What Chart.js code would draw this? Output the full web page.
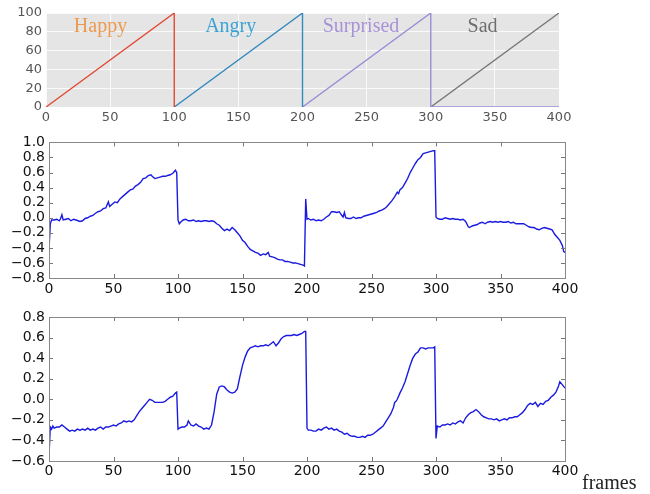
<!DOCTYPE html>
<html>
<head>
<meta charset="utf-8">
<script src="https://cdn.jsdelivr.net/npm/chart.js@4/dist/chart.umd.min.js"></script>
<style>
  body { margin: 0; background: #fff; width: 650px; height: 494px; position: relative; overflow: hidden; }
  canvas { position: absolute; left: 0; }
  #frames { position: absolute; left: 582px; top: 472px; font: 20px 'Liberation Serif', serif; line-height: 20px; color: #222; }
</style>
</head>
<body>
<canvas id="topChart" width="650" height="128" style="top:0"></canvas>
<canvas id="midChart" width="650" height="170" style="top:130px"></canvas>
<canvas id="lowChart" width="650" height="194" style="top:300px"></canvas>
<div id="frames">frames</div>
<script>
// Emozioni (grafico in alto)
const emotions = ['Happy', 'Angry', 'Surprised', 'Sad'];
const emotionColors = ['#e24a33', '#348abd', '#988ed5', '#777777'];
const labelColors = ['#ec9a50', '#3aa3d4', '#a892d8', '#6e6e6e'];
const labelX = [42.5, 144, 245.6, 340.4];
const rampFrames = [[0, 100, 100], [100, 200, 200], [200, 300, 300, 400], [300, 400]];
const rampValues = [[0, 100, 0], [0, 100, 0], [0, 100, 0, 0], [0, 100]];

// Serie centrale
const midFrames = [0,1,2,4,6,8,9,10,11,13,15,17,19,21,24,26,28,30,32,34,36,38,40,42,44,46,47,49,51,53,55,57,59,61,63,65,67,69,71,73,75,77,79,80,82,84,86,88,90,92,94,96,97,98,99,
  100,101,102,104,106,108,110,112,114,116,118,120,122,124,126,128,130,132,134,136,138,140,142,144,146,148,150,152,154,156,158,160,162,164,166,168,170,171,173,175,177,179,181,183,185,187,189,191,193,195,197,198,199,
  200,201,203,205,207,209,211,213,215,217,219,221,223,225,227,228,229,230,232,234,236,238,240,242,244,246,248,250,252,254,256,258,260,262,264,266,268,270,271,272,274,276,278,280,282,284,286,288,290,292,294,296,298,299,
  300,301,303,305,307,309,311,313,315,317,319,321,323,325,326,328,330,332,334,336,338,340,342,344,346,348,350,352,354,356,358,360,362,364,366,368,370,372,374,376,378,380,382,384,386,388,390,392,394,396,398,399,400];
const midValues = [-0.42,-0.08,-0.03,-0.03,-0.02,-0.04,-0.01,0.04,-0.03,-0.02,-0.01,-0.04,-0.02,-0.03,-0.05,-0.04,-0.01,0.00,0.02,0.03,0.06,0.08,0.09,0.12,0.13,0.21,0.15,0.18,0.21,0.20,0.25,0.28,0.31,0.34,0.37,0.38,0.42,0.44,0.47,0.52,0.53,0.56,0.57,0.55,0.52,0.53,0.54,0.55,0.55,0.56,0.57,0.59,0.61,0.63,0.60,
  -0.03,-0.08,-0.06,-0.03,-0.02,-0.04,-0.04,-0.03,-0.05,-0.04,-0.05,-0.04,-0.04,-0.05,-0.04,-0.05,-0.08,-0.10,-0.14,-0.17,-0.15,-0.17,-0.13,-0.16,-0.20,-0.24,-0.30,-0.33,-0.38,-0.42,-0.44,-0.46,-0.47,-0.50,-0.48,-0.49,-0.46,-0.51,-0.52,-0.53,-0.55,-0.56,-0.56,-0.58,-0.58,-0.59,-0.60,-0.60,-0.61,-0.62,-0.63,-0.64,0.25,
  -0.02,-0.01,-0.03,-0.02,-0.04,-0.03,-0.04,-0.02,0.01,0.03,0.08,0.08,0.07,0.08,0.03,0.01,0.07,0.00,-0.01,-0.01,0.01,-0.01,0.00,0.00,0.02,0.03,0.04,0.05,0.06,0.07,0.09,0.10,0.12,0.15,0.19,0.23,0.28,0.34,0.32,0.37,0.40,0.46,0.52,0.60,0.66,0.72,0.77,0.80,0.85,0.86,0.87,0.88,0.89,0.89,
  0.01,-0.01,-0.02,-0.02,0.00,-0.01,-0.02,-0.01,-0.02,-0.02,-0.03,-0.02,-0.05,-0.12,-0.13,-0.11,-0.10,-0.09,-0.07,-0.06,-0.08,-0.06,-0.05,-0.06,-0.05,-0.06,-0.05,-0.06,-0.06,-0.05,-0.07,-0.06,-0.08,-0.08,-0.08,-0.08,-0.10,-0.12,-0.13,-0.13,-0.15,-0.16,-0.14,-0.13,-0.14,-0.15,-0.16,-0.22,-0.26,-0.30,-0.37,-0.45,-0.46];

// Serie in basso
const lowFrames = [0,1,2,3,4,6,8,10,12,14,16,18,20,22,24,26,28,30,32,34,36,38,40,42,44,46,48,50,52,54,56,58,60,62,64,66,68,70,72,74,76,78,80,82,84,86,88,90,92,94,96,98,99,
  100,101,103,105,107,108,110,112,114,116,118,120,122,124,126,128,130,132,134,136,138,140,142,144,146,148,150,152,154,156,158,160,162,164,166,168,170,172,174,176,178,180,182,184,186,188,190,192,194,196,198,199,
  200,201,203,205,207,209,211,213,215,217,219,221,223,225,227,229,231,233,235,237,239,241,243,245,247,249,251,253,255,257,259,261,263,265,267,268,269,270,272,274,276,278,280,282,284,286,288,290,292,294,296,298,299,
  300,301,303,305,307,309,311,313,315,317,319,321,323,325,327,329,331,333,335,337,339,341,343,345,347,349,351,353,355,357,359,361,363,365,367,369,371,373,375,377,379,381,383,385,387,389,391,393,395,396,398,400];
const lowValues = [-0.55,-0.27,-0.29,-0.26,-0.28,-0.27,-0.27,-0.25,-0.27,-0.29,-0.31,-0.30,-0.31,-0.29,-0.30,-0.29,-0.30,-0.28,-0.30,-0.29,-0.30,-0.28,-0.27,-0.29,-0.27,-0.27,-0.26,-0.25,-0.26,-0.24,-0.23,-0.21,-0.22,-0.21,-0.22,-0.20,-0.16,-0.12,-0.09,-0.06,-0.03,0.00,-0.01,-0.03,-0.03,-0.03,-0.03,-0.02,0.00,0.02,0.03,0.06,0.07,
  -0.29,-0.28,-0.27,-0.27,-0.25,-0.21,-0.25,-0.26,-0.24,-0.26,-0.27,-0.29,-0.28,-0.29,-0.25,-0.12,0.05,0.12,0.13,0.12,0.09,0.07,0.06,0.07,0.10,0.22,0.33,0.41,0.47,0.50,0.51,0.52,0.51,0.52,0.52,0.53,0.52,0.54,0.56,0.52,0.55,0.59,0.61,0.62,0.62,0.62,0.63,0.62,0.63,0.64,0.66,0.66,
  -0.28,-0.30,-0.30,-0.31,-0.31,-0.29,-0.30,-0.28,-0.27,-0.29,-0.28,-0.30,-0.29,-0.31,-0.32,-0.34,-0.33,-0.35,-0.36,-0.36,-0.37,-0.37,-0.36,-0.37,-0.35,-0.35,-0.34,-0.32,-0.30,-0.28,-0.26,-0.22,-0.18,-0.14,-0.08,-0.03,-0.02,0.00,0.06,0.11,0.17,0.25,0.33,0.40,0.44,0.46,0.50,0.50,0.49,0.50,0.50,0.50,0.51,
  -0.38,-0.26,-0.27,-0.25,-0.25,-0.24,-0.25,-0.23,-0.24,-0.22,-0.21,-0.23,-0.18,-0.15,-0.13,-0.12,-0.10,-0.12,-0.15,-0.17,-0.18,-0.19,-0.19,-0.20,-0.19,-0.21,-0.20,-0.19,-0.20,-0.18,-0.18,-0.17,-0.17,-0.15,-0.13,-0.10,-0.06,-0.04,-0.05,-0.03,-0.07,-0.04,-0.05,-0.02,-0.01,0.02,0.04,0.07,0.13,0.17,0.14,0.11];

// Assi
const frameTicks = [0, 50, 100, 150, 200, 250, 300, 350, 400];
const topTicks = [0, 20, 40, 60, 80, 100];
const midTicks = [-0.8, -0.6, -0.4, -0.2, 0.0, 0.2, 0.4, 0.6, 0.8, 1.0];
const lowTicks = [-0.6, -0.4, -0.2, 0.0, 0.2, 0.4, 0.6, 0.8];

const lineColor = '#1a1ae0';

function toPoints(xs, ys) {
    return xs.map((x, i) => ({ x: x, y: ys[i] }));
}

function fmt(v) {
    const s = Math.abs(v) < 1e-9 ? '0.0' : v.toFixed(1);
    return s.replace('-', '\u2212');
}

// Sfondo grigio e etichette (stile ggplot)
const ggplotPlugin = {
    id: 'ggplot',
    beforeDraw(chart) {
        const a = chart.chartArea;
        const ctx = chart.ctx;
        ctx.save();
        ctx.fillStyle = '#e5e5e5';
        ctx.fillRect(a.left, a.top, a.right - a.left, a.bottom - a.top);
        ctx.restore();
    },
    afterDatasetsDraw(chart) {
        const ctx = chart.ctx;
        const xs = chart.scales.x, ys = chart.scales.y;
        ctx.save();
        ctx.font = '20px "Liberation Serif", serif';
        ctx.textAlign = 'center';
        ctx.textBaseline = 'alphabetic';
        emotions.forEach((name, i) => {
            ctx.fillStyle = labelColors[i];
            ctx.fillText(name, xs.getPixelForValue(labelX[i]), ys.getPixelForValue(80));
        });
        ctx.restore();
    }
};

// Cornice e tacche interne (stile matplotlib)
const framePlugin = {
    id: 'frame',
    afterDatasetsDraw(chart) {
        const a = chart.chartArea;
        const ctx = chart.ctx;
        const xs = chart.scales.x, ys = chart.scales.y;
        ctx.save();
        ctx.strokeStyle = '#777';
        ctx.lineWidth = 1;
        ctx.beginPath();
        xs.ticks.forEach(t => {
            const px = Math.round(xs.getPixelForValue(t.value)) + 0.5;
            ctx.moveTo(px, a.bottom); ctx.lineTo(px, a.bottom - 4);
            ctx.moveTo(px, a.top); ctx.lineTo(px, a.top + 4);
        });
        ys.ticks.forEach(t => {
            const py = Math.round(ys.getPixelForValue(t.value)) + 0.5;
            ctx.moveTo(a.left, py); ctx.lineTo(a.left + 4, py);
            ctx.moveTo(a.right, py); ctx.lineTo(a.right - 4, py);
        });
        ctx.stroke();
        ctx.strokeStyle = '#888';
        ctx.strokeRect(Math.round(a.left) + 0.5, Math.round(a.top) + 0.5, Math.round(a.right - a.left), Math.round(a.bottom - a.top));
        ctx.restore();
    }
};

function xScale(xAxisH, pad, fontSize, color, grid) {
    return {
        type: 'linear', min: 0, max: 400,
        afterBuildTicks: (s) => { s.ticks = frameTicks.map(v => ({ value: v })); },
        afterFit: (s) => { s.height = xAxisH; },
        ticks: { padding: pad, color: color, autoSkip: false, font: { family: 'DejaVu Sans', size: fontSize }, maxRotation: 0, callback: (v) => String(v) },
        grid: grid,
        border: { display: false }
    };
}

function yScale(min, max, tickVals, width, fontSize, color, grid, labelFn) {
    return {
        type: 'linear', min: min, max: max,
        afterBuildTicks: (s) => { s.ticks = tickVals.map(v => ({ value: v })); },
        afterFit: (s) => { s.width = width; },
        ticks: { padding: 4, color: color, autoSkip: false, font: { family: 'DejaVu Sans', size: fontSize }, callback: labelFn },
        grid: grid,
        border: { display: false }
    };
}

// Grafico in alto
new Chart(document.getElementById('topChart'), {
    type: 'line',
    data: {
        datasets: emotions.map((name, i) => ({
            label: name,
            data: toPoints(rampFrames[i], rampValues[i]),
            borderColor: emotionColors[i],
            borderWidth: 1.4,
            pointRadius: 0,
            tension: 0
        }))
    },
    options: {
        responsive: false,
        animation: false,
        layout: { padding: { top: 13, right: 91, left: 0, bottom: 0 } },
        plugins: { legend: { display: false }, tooltip: { enabled: false } },
        scales: {
            x: xScale(21, 3, 13, '#555', { color: 'rgba(255,255,255,0.8)', drawTicks: false }),
            y: yScale(0, 100, topTicks, 46, 13, '#555', { color: 'rgba(255,255,255,0.8)', drawTicks: false }, (v) => String(v))
        }
    },
    plugins: [ggplotPlugin]
});

function seriesChart(id, frames, values, min, max, tickVals, topPad, xAxisH, xPad) {
    return new Chart(document.getElementById(id), {
        type: 'line',
        data: {
            datasets: [{
                data: toPoints(frames, values),
                borderColor: lineColor,
                borderWidth: 1.4,
                pointRadius: 0,
                tension: 0
            }]
        },
        options: {
            responsive: false,
            animation: false,
            layout: { padding: { top: topPad, right: 85, left: 0, bottom: 0 } },
            plugins: { legend: { display: false }, tooltip: { enabled: false } },
            scales: {
                x: xScale(xAxisH, xPad, 14, '#111', { display: false, drawTicks: false }),
                y: yScale(min, max, tickVals, 49, 14, '#111', { display: false, drawTicks: false }, fmt)
            }
        },
        plugins: [framePlugin]
    });
}

seriesChart('midChart', midFrames, midValues, -0.8, 1.0, midTicks, 12, 22, 3);
seriesChart('lowChart', lowFrames, lowValues, -0.6, 0.8, lowTicks, 17, 33, 2);
</script>
</body>
</html>
